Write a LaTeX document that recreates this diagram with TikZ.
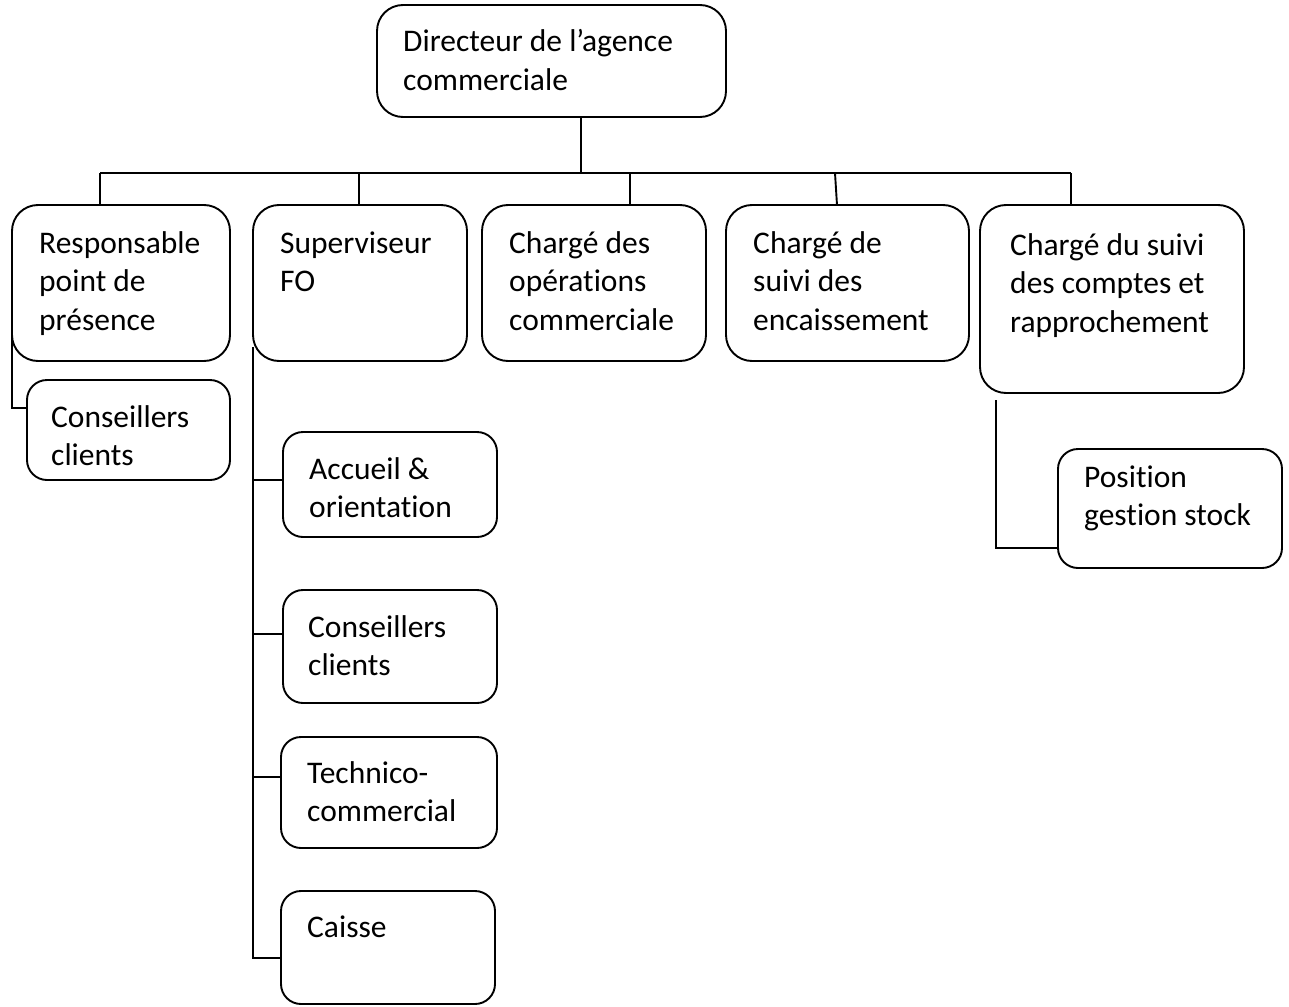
\documentclass[tikz,border=0pt]{standalone}
\usepackage{fontspec}
\setmainfont[Ligatures={NoCommon}]{Carlito}
\begin{document}
\begin{tikzpicture}[x=1pt,y=-1pt,
  box/.style={draw=black, line width=1.9pt, rounded corners=26pt},
  sbox/.style={draw=black, line width=1.9pt, rounded corners=20pt},
  lbl/.style={anchor=base west, inner sep=0pt, align=left, font=\fontsize{31.5}{38.5}\selectfont},
  conn/.style={draw=black, line width=1.9pt}]
\useasboundingbox[fill=white] (0,0) rectangle (1289,1006);
% boxes (text anchors are the baseline of the last line)
\draw[box] (377,5) rectangle (726,117);
\node[lbl] (dir) at (403,90.5) {Directeur de l’agence\\commerciale};
\draw[box] (12,205) rectangle (230,361);
\node[lbl] (resp) at (39,330) {Responsable\\point de\\présence};
\draw[box] (253,205) rectangle (467,361);
\node[lbl] (sup) at (280,291.5) {Superviseur\\FO};
\draw[box] (482,205) rectangle (706,361);
\node[lbl] (ops) at (509,330) {Chargé des\\opérations\\commerciale};
\draw[box] (726,205) rectangle (969,361);
\node[lbl] (enc) at (753,330) {Chargé de\\suivi des\\encaissement};
\draw[box] (980,205) rectangle (1244,393);
\node[lbl] (cpt) at (1010,332) {Chargé du suivi\\des comptes et\\rapprochement};
\draw[sbox] (27,380) rectangle (230,480);
\node[lbl] (cc1) at (51,465.5) {Conseillers\\clients};
\draw[sbox] (283,432) rectangle (497,537);
\node[lbl] (acc) at (309,517.5) {Accueil \&\\orientation};
\draw[sbox] (283,590) rectangle (497,703);
\node[lbl] (cc2) at (308,675.5) {Conseillers\\clients};
\draw[sbox] (281,737) rectangle (497,848);
\node[lbl] (tech) at (307,821.5) {Technico-\\commercial};
\draw[sbox] (281,891) rectangle (495,1004);
\node[lbl] (cai) at (307,937) {Caisse};
\draw[sbox] (1058,449) rectangle (1282,568);
\node[lbl] (pos) at (1084,525.5) {Position\\gestion stock};
% connector coordinates
\coordinate (dTop) at (581,117);
\coordinate (bus) at (581,173);
\coordinate (bL) at (100,173);
\coordinate (bR) at (1071,173);
\coordinate (t1) at (100,205);
\coordinate (b2) at (359,173);
\coordinate (t2) at (359,205);
\coordinate (b3) at (630,173);
\coordinate (t3) at (630,205);
\coordinate (b4) at (835,173);
\coordinate (t4) at (837,205);
\coordinate (t5) at (1071,205);
\coordinate (r1) at (12,300);
\coordinate (r2) at (12,408);
\coordinate (c1L) at (27,408);
\coordinate (s0) at (253,347);
\coordinate (s1) at (253,480);
\coordinate (s2) at (253,634);
\coordinate (s3) at (253,777);
\coordinate (s4) at (253,958);
\coordinate (aL) at (283,480);
\coordinate (cL) at (283,634);
\coordinate (tL) at (281,777);
\coordinate (kL) at (281,958);
\coordinate (p0) at (996,400);
\coordinate (p1) at (996,548);
\coordinate (pL) at (1058,548);
% connectors
\draw[conn] (dTop) -- (bus);
\draw[conn] (bL) -- (bR);
\draw[conn] (bL) -- (t1);
\draw[conn] (b2) -- (t2);
\draw[conn] (b3) -- (t3);
\draw[conn] (b4) -- (t4);
\draw[conn] (bR) -- (t5);
\draw[conn] (r1) -- (r2) -- (c1L);
\draw[conn] (s0) -- (s4) -- (kL);
\draw[conn] (s1) -- (aL);
\draw[conn] (s2) -- (cL);
\draw[conn] (s3) -- (tL);
\draw[conn] (p0) -- (p1) -- (pL);
\end{tikzpicture}
\end{document}
